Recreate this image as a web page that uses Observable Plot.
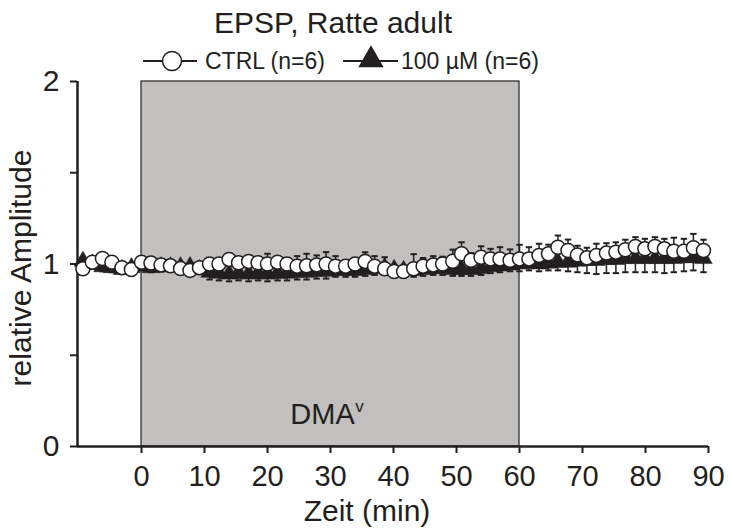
<!DOCTYPE html>
<html><head><meta charset="utf-8">
<script src="https://cdn.jsdelivr.net/npm/d3@7"></script>
<script src="https://cdn.jsdelivr.net/npm/@observablehq/plot@0.6"></script>
<style>
body{margin:0;background:#fff;font-family:"Liberation Sans",Arial,sans-serif;color:#231f20;}
#wrap{position:relative;width:731px;height:528px;overflow:hidden;}
#chart{position:absolute;left:0;top:72px;}
#head{position:absolute;left:0;top:0;}
</style>
</head><body>
<div id="wrap">
<div id="chart"></div>
<svg id="head" width="731" height="78" font-family="Liberation Sans, Arial, sans-serif" fill="#231f20">
  <text id="title" x="333" y="33" text-anchor="middle" font-size="30"></text>
  <g id="legend"></g>
</svg>
</div>
<script>
// ---- data ----
const titleText = "EPSP, Ratte adult";
const seriesNames = ["CTRL (n=6)", "100 µM (n=6)"];
const xLabel = "Zeit (min)";
const yLabel = "relative Amplitude";
const periodLabel = "DMA";
const periodSup = "v";
const dmaPeriod = [0, 60];
const xDomain = [-10.16, 90];
const yDomain = [0, 2];
const xTicks = [0, 10, 20, 30, 40, 50, 60, 70, 80, 90];
const yTicks = [0, 0.5, 1, 1.5, 2];
const yTickLabels = ["0", "", "1", "", "2"];

const time = [-9.3,-7.8,-6.2,-4.7,-3.1,-1.6,0,1.5,3.1,4.6,6.2,7.7,9.2,
  10.8,12.3,13.9,15.4,17.0,18.5,20.0,21.6,23.1,24.7,26.2,27.8,29.3,
  30.8,32.4,33.9,35.5,37.0,38.6,40.1,41.6,43.2,44.7,46.3,47.8,49.4,
  50.8,52.3,53.9,55.4,56.9,58.5,60.0,61.5,63.1,64.6,66.1,67.7,69.2,
  70.7,72.2,73.8,75.3,76.8,78.4,79.9,81.5,83.0,84.5,86.1,87.6,89.2];

const ctrlMean = [0.974,1.01,1.03,1.01,0.98,0.97,1.01,1.005,0.995,0.99,0.975,0.965,0.98,
  1.0,1.0,1.025,1.007,1.014,1.007,1.0,1.01,1.0,0.988,0.99,0.995,1.0,
  0.988,0.988,1.0,1.014,0.988,0.974,0.959,0.959,0.974,0.988,0.995,1.0,1.015,
  1.056,1.02,1.037,1.028,1.028,1.02,1.028,1.028,1.047,1.056,1.092,1.074,1.05,
  1.034,1.047,1.06,1.065,1.078,1.096,1.083,1.096,1.083,1.07,1.07,1.089,1.074];
const ctrlSem = [0.02,0.02,0.02,0.02,0.02,0.02,0.02,0.02,0.02,0.02,0.02,0.02,0.02,
  0.02,0.02,0.02,0.02,0.02,0.03,0.056,0.03,0.03,0.055,0.066,0.052,0.065,
  0.055,0.03,0.03,0.05,0.055,0.063,0.03,0.03,0.08,0.045,0.048,0.04,0.064,
  0.063,0.04,0.06,0.055,0.064,0.06,0.077,0.064,0.064,0.05,0.064,0.06,0.05,
  0.055,0.064,0.054,0.054,0.055,0.051,0.055,0.051,0.055,0.074,0.068,0.076,0.059];

const drugMean = [1.015,1.0,0.985,0.98,0.97,0.98,0.99,0.98,0.985,0.985,0.985,0.986,0.97,
  0.955,0.95,0.945,0.95,0.945,0.95,0.945,0.95,0.95,0.955,0.955,0.96,0.96,
  0.965,0.965,0.965,0.97,0.975,0.98,0.97,0.965,0.965,0.97,0.975,0.975,0.97,
  0.97,0.97,0.975,0.985,0.99,0.995,1.0,1.005,1.0,1.005,1.01,1.01,1.015,
  1.02,1.02,1.025,1.025,1.03,1.03,1.03,1.03,1.03,1.03,1.035,1.035,1.03];
const drugSem = [0.025,0.025,0.025,0.025,0.025,0.025,0.025,0.025,0.025,0.025,0.025,0.025,0.025,
  0.04,0.04,0.04,0.04,0.04,0.04,0.04,0.04,0.04,0.04,0.04,0.04,0.04,
  0.035,0.035,0.035,0.035,0.035,0.035,0.035,0.035,0.035,0.035,0.035,0.035,0.035,
  0.035,0.035,0.035,0.035,0.035,0.035,0.04,0.04,0.04,0.04,0.045,0.05,0.06,
  0.07,0.075,0.075,0.075,0.075,0.075,0.075,0.075,0.08,0.075,0.075,0.07,0.075];

// ---- styles ----
const dark = "#231f20";
const shade = "#c1c0be";
const font = "Liberation Sans, Arial, sans-serif";

const ctrl = time.map((t, i) => ({t, m: ctrlMean[i], s: ctrlSem[i]}));
const drug = time.map((t, i) => ({t, m: drugMean[i], s: drugSem[i]}));
const period = [{start: dmaPeriod[0], end: dmaPeriod[1]}];
const capSymbol = {draw(ctx) { ctx.moveTo(-3.2, 0); ctx.lineTo(3.2, 0); }};

const chart = Plot.plot({
  width: 731, height: 456,
  marginTop: 9, marginBottom: 82, marginLeft: 77, marginRight: 23,
  style: {fontFamily: font, color: dark, overflow: "visible", background: "transparent"},
  x: {domain: xDomain},
  y: {domain: yDomain},
  marks: [
    Plot.rect(period, {x1: "start", x2: "end", y1: () => yDomain[0], y2: () => yDomain[1], fill: shade, stroke: dark, strokeWidth: 1.2}),
    Plot.axisY({ticks: yTicks, tickFormat: d => yTickLabels[yTicks.indexOf(d)], tickSize: 7, tickPadding: 11, fontSize: 30, label: null, stroke: dark, strokeWidth: 2, color: dark}),
    Plot.axisX({ticks: xTicks, tickSize: 7, tickPadding: 12, fontSize: 29, label: null, stroke: dark, strokeWidth: 2, color: dark}),
    Plot.ruleX([xDomain[0]], {y1: () => yDomain[0], y2: () => yDomain[1], stroke: dark, strokeWidth: 2.5}),
    Plot.ruleY([yDomain[0]], {x1: () => xDomain[0], x2: () => xDomain[1], stroke: dark, strokeWidth: 2.5}),
    // 100 µM series: error bars downward
    Plot.ruleX(drug, {x: "t", y1: "m", y2: d => d.m - d.s, stroke: dark, strokeWidth: 1.5}),
    Plot.dot(drug, {x: "t", y: d => d.m - d.s, symbol: capSymbol, stroke: dark, strokeWidth: 2, fill: "none"}),
    Plot.line(drug, {x: "t", y: "m", stroke: dark, strokeWidth: 1.5}),
    Plot.dot(drug, {x: "t", y: "m", symbol: "triangle", r: 6.5, fill: dark, stroke: dark, strokeWidth: 0.5}),
    // CTRL series: error bars upward
    Plot.ruleX(ctrl, {x: "t", y1: "m", y2: d => d.m + d.s, stroke: dark, strokeWidth: 1.5}),
    Plot.dot(ctrl, {x: "t", y: d => d.m + d.s, symbol: capSymbol, stroke: dark, strokeWidth: 2, fill: "none"}),
    Plot.line(ctrl, {x: "t", y: "m", stroke: dark, strokeWidth: 1.5}),
    Plot.dot(ctrl, {x: "t", y: "m", r: 7, fill: "white", stroke: dark, strokeWidth: 1.5}),
    // labels
    Plot.text([periodLabel], {x: () => (dmaPeriod[0] + dmaPeriod[1]) / 2, frameAnchor: "bottom", dx: -8, dy: -23, fontSize: 29, fill: dark}),
    Plot.text([periodSup], {x: () => (dmaPeriod[0] + dmaPeriod[1]) / 2, frameAnchor: "bottom", dx: 29, dy: -35, fontSize: 17, fill: dark}),
    Plot.text([xLabel], {frameAnchor: "bottom", dx: -26, dy: 74, fontSize: 30, fill: dark}),
    Plot.text([yLabel], {frameAnchor: "left", textAnchor: "middle", rotate: -90, dx: -56, dy: 4, fontSize: 30, fill: dark})
  ]
});
document.getElementById("chart").appendChild(chart);

// ---- title & legend ----
document.getElementById("title").textContent = titleText;
const lg = d3.select("#legend");
const ly = 61;
lg.append("line").attr("x1", 143).attr("x2", 197).attr("y1", ly).attr("y2", ly).attr("stroke", dark).attr("stroke-width", 2);
lg.append("circle").attr("cx", 172).attr("cy", ly).attr("r", 9.5).attr("fill", "white").attr("stroke", dark).attr("stroke-width", 1.5);
lg.append("text").attr("x", 205).attr("y", ly).attr("dy", "0.36em").attr("font-size", 23).text(seriesNames[0]);
lg.append("line").attr("x1", 343).attr("x2", 398).attr("y1", ly).attr("y2", ly).attr("stroke", dark).attr("stroke-width", 2);
lg.append("path").attr("d", d3.symbol(d3.symbolTriangle, 280)()).attr("transform", `translate(371,${ly - 1})`).attr("fill", dark);
lg.append("text").attr("x", 401).attr("y", ly).attr("dy", "0.36em").attr("font-size", 23).text(seriesNames[1]);
</script>
</body></html>
